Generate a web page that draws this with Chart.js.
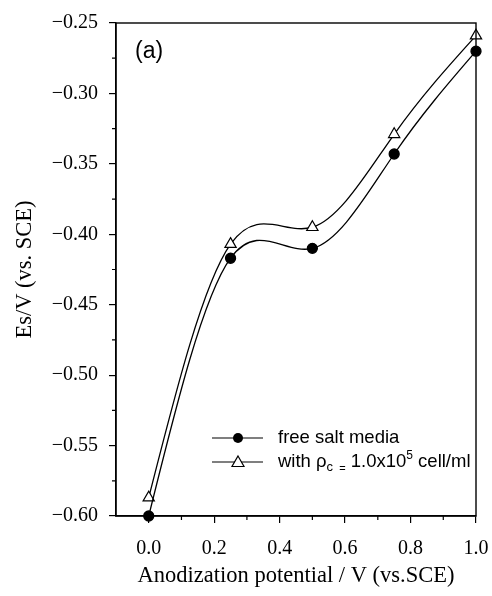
<!DOCTYPE html>
<html>
<head>
<meta charset="utf-8">
<script src="https://cdn.jsdelivr.net/npm/chart.js@4"></script>
<style>
  html, body { margin: 0; padding: 0; background: #fff; }
  #wrap { width: 492px; height: 596px; position: relative; }
</style>
</head>
<body>
<div id="wrap"><canvas id="chart"></canvas></div>
<script>
// anodization potential (V vs. SCE)
const potentials = [0.0, 0.25, 0.5, 0.75, 1.0];
// Es/V for each medium
const freeSalt = [-0.600, -0.417, -0.410, -0.343, -0.270];
const withCells = [-0.587, -0.407, -0.395, -0.329, -0.259];

const xMajorTicks = [0.0, 0.2, 0.4, 0.6, 0.8, 1.0];
const xMinorTicks = [0.1, 0.3, 0.5, 0.7, 0.9];
const yMajorTicks = [-0.60, -0.55, -0.50, -0.45, -0.40, -0.35, -0.30, -0.25];
const yMinorTicks = [-0.575, -0.525, -0.475, -0.425, -0.375, -0.325, -0.275];

const serif = "'Liberation Serif', 'Times New Roman', serif";
const sans = "'Liberation Sans', Arial, sans-serif";

const toPoints = ys => potentials.map((x, i) => ({ x: x, y: ys[i] }));

// replace chart.js bezier handles with natural cubic spline ones (like the original plot)
const naturalSpline = {
  id: "naturalSpline",
  beforeDatasetDraw(chart, args) {
    const meta = args.meta;
    const line = meta.dataset;
    const pts = meta.data;
    const n = pts.length;
    if (!line || n < 3) return;
    line.updateControlPoints(chart.chartArea, "x");

    const xs = pts.map(p => p.x), ys = pts.map(p => p.y);
    const h = [];
    for (let i = 0; i < n - 1; i++) h.push(xs[i + 1] - xs[i]);

    const a = [], b = [], c = [], d = [];
    for (let i = 1; i < n - 1; i++) {
      a.push(h[i - 1]);
      b.push(2 * (h[i - 1] + h[i]));
      c.push(h[i]);
      d.push(6 * ((ys[i + 1] - ys[i]) / h[i] - (ys[i] - ys[i - 1]) / h[i - 1]));
    }
    const m = n - 2;
    for (let i = 1; i < m; i++) {
      const w = a[i] / b[i - 1];
      b[i] -= w * c[i - 1];
      d[i] -= w * d[i - 1];
    }
    const M = new Array(n).fill(0);
    for (let i = m - 1; i >= 0; i--) {
      M[i + 1] = (d[i] - (i < m - 1 ? c[i] * M[i + 2] : 0)) / b[i];
    }

    const s = [];
    for (let i = 0; i < n - 1; i++) {
      s.push((ys[i + 1] - ys[i]) / h[i] - h[i] * (2 * M[i] + M[i + 1]) / 6);
    }
    s.push((ys[n - 1] - ys[n - 2]) / h[n - 2] + h[n - 2] * (M[n - 2] + 2 * M[n - 1]) / 6);

    pts.forEach((p, i) => {
      if (i > 0) {
        const k = h[i - 1] / 3;
        p.cp1x = p.x - k;
        p.cp1y = p.y - s[i] * k;
      }
      if (i < n - 1) {
        const k = h[i] / 3;
        p.cp2x = p.x + k;
        p.cp2y = p.y + s[i] * k;
      }
    });
    line._path = undefined;
  }
};

// frame, minor ticks, panel label and legend
const extras = {
  id: "extras",
  afterDraw(chart) {
    const ctx = chart.ctx;
    const a = chart.chartArea;
    const xs = chart.scales.x, ys = chart.scales.y;
    ctx.save();
    ctx.strokeStyle = "#000";
    ctx.lineWidth = 1.4;
    ctx.strokeRect(a.left, a.top, a.right - a.left, a.bottom - a.top);

    ctx.lineWidth = 1.2;
    ctx.beginPath();
    xMinorTicks.forEach(v => {
      const px = xs.getPixelForValue(v);
      ctx.moveTo(px, a.bottom);
      ctx.lineTo(px, a.bottom + 4);
    });
    yMinorTicks.forEach(v => {
      const py = ys.getPixelForValue(v);
      ctx.moveTo(a.left, py);
      ctx.lineTo(a.left - 4, py);
    });
    ctx.stroke();

    ctx.fillStyle = "#000";
    ctx.font = "23px " + sans;
    ctx.textBaseline = "middle";
    ctx.textAlign = "left";
    ctx.fillText("(a)", 135, 52);

    // legend
    const rows = [
      { y: 438, style: "circle" },
      { y: 462, style: "triangle" }
    ];
    rows.forEach(r => {
      ctx.beginPath();
      ctx.lineWidth = 1.2;
      ctx.moveTo(212, r.y);
      ctx.lineTo(263, r.y);
      ctx.stroke();
      if (r.style === "circle") {
        ctx.beginPath();
        ctx.arc(238, r.y, 5, 0, Math.PI * 2);
        ctx.fill();
      } else {
        ctx.beginPath();
        ctx.moveTo(238, r.y - 6);
        ctx.lineTo(244, r.y + 4.5);
        ctx.lineTo(232, r.y + 4.5);
        ctx.closePath();
        ctx.fillStyle = "#fff";
        ctx.fill();
        ctx.stroke();
        ctx.fillStyle = "#000";
      }
    });
    ctx.font = "18.5px " + sans;
    ctx.fillText("free salt media", 278, 438);
    let x = 278;
    const y2 = 462;
    const put = (t, size, dy) => {
      ctx.font = size + "px " + sans;
      ctx.fillText(t, x, y2 + dy);
      x += ctx.measureText(t).width;
    };
    put("with \u03c1", 18.5, 0);
    put("c", 13, 5);
    put("  =", 11, 7);
    put(" 1.0x10", 18.5, 0);
    put("5", 12, -6);
    put(" cell/ml", 18.5, 0);
    ctx.restore();
  }
};

const ctx = document.getElementById("chart").getContext("2d");
new Chart(ctx, {
  type: "line",
  data: {
    datasets: [
      {
        label: "free salt media",
        data: toPoints(freeSalt),
        tension: 0.4,
        borderColor: "#000",
        borderWidth: 1.3,
        pointStyle: "circle",
        pointRadius: 5,
        pointBackgroundColor: "#000",
        pointBorderColor: "#000",
        clip: false
      },
      {
        label: "with cells",
        data: toPoints(withCells),
        tension: 0.4,
        borderColor: "#000",
        borderWidth: 1.3,
        pointStyle: "triangle",
        pointRadius: 6.5,
        pointBackgroundColor: "#fff",
        pointBorderColor: "#000",
        pointBorderWidth: 1.2,
        clip: false
      }
    ]
  },
  options: {
    responsive: true,
    maintainAspectRatio: false,
    animation: false,
    events: [],
    layout: { padding: { left: 0, right: 16, top: 22, bottom: 0 } },
    plugins: {
      legend: { display: false },
      tooltip: { enabled: false }
    },
    scales: {
      x: {
        type: "linear",
        min: -0.1,
        max: 1.0,
        afterBuildTicks: s => { s.ticks = xMajorTicks.map(v => ({ value: v })); },
        afterFit: s => { s.height = 80; s.paddingRight = 0; s.paddingLeft = 0; },
        grid: { drawOnChartArea: false, drawTicks: true, tickLength: 7, color: "#000", lineWidth: 1.2 },
        border: { display: true, color: "#000", width: 1.4 },
        ticks: {
          color: "#000",
          padding: 14,
          maxRotation: 0,
          font: { family: serif, size: 20 },
          callback: v => Number(v).toFixed(1)
        },
        title: {
          display: true,
          text: "Anodization potential / V (vs.SCE)",
          color: "#000",
          font: { family: serif, size: 22.5 },
          padding: { top: 0, bottom: 6.5 }
        }
      },
      y: {
        type: "linear",
        min: -0.60,
        max: -0.25,
        afterBuildTicks: s => { s.ticks = yMajorTicks.map(v => ({ value: v })); },
        afterFit: s => { s.width = 116; },
        grid: { drawOnChartArea: false, drawTicks: true, tickLength: 7, color: "#000", lineWidth: 1.2 },
        border: { display: true, color: "#000", width: 1.4 },
        ticks: {
          color: "#000",
          padding: 11,
          font: { family: serif, size: 20 },
          callback: v => (v < 0 ? "\u2212" : "") + Math.abs(v).toFixed(2)
        },
        title: {
          display: true,
          text: "Es/V (vs. SCE)",
          color: "#000",
          font: { family: serif, size: 22.5 },
          padding: { top: 11.5, bottom: 0 }
        }
      }
    }
  },
  plugins: [naturalSpline, extras]
});
</script>
</body>
</html>
